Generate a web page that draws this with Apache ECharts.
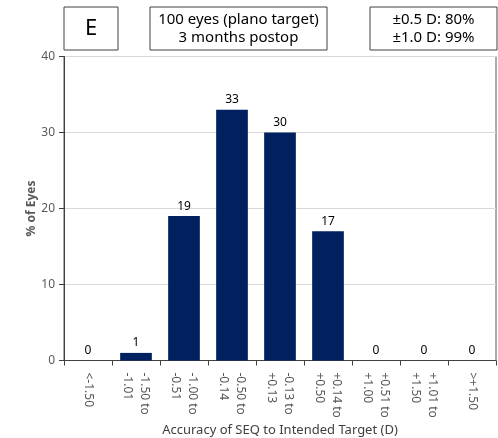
<!DOCTYPE html>
<html><head><meta charset="utf-8">
<script src="https://cdn.jsdelivr.net/npm/echarts@6/dist/echarts.min.js"></script>
<style>html,body{margin:0;padding:0;background:#fff}#c{width:498px;height:438px}</style>
</head><body><div id="c"></div>
<script>
const categories = ['<-1.50', '-1.50 to\n-1.01', '-1.00 to\n-0.51', '-0.50 to\n-0.14', '-0.13 to\n+0.13', '+0.14 to\n+0.50', '+0.51 to\n+1.00', '+1.01 to\n+1.50', '>+1.50'];
const percentEyes = [0, 1, 19, 33, 30, 17, 0, 0, 0];
const yTicks = [0, 10, 20, 30, 40];
const panelLabel = 'E';
const infoText = '100 eyes (plano target)\n3 months postop';
const statsText = '±0.5 D: 80%\n±1.0 D: 99%';

const FONT = '"Noto Sans", sans-serif';
const chart = echarts.init(document.getElementById('c'), null, {renderer: 'canvas'});
function box(x, y, w, h, text, size) {
  return {
    type: 'group', left: x, top: y, children: [
      {type: 'rect', shape: {x: 0, y: 0, width: w, height: h}, style: {fill: '#fff', stroke: '#404040', lineWidth: 1}},
      {type: 'text', x: w / 2, y: h / 2, style: {text: text, fill: '#000', font: size + 'px ' + FONT, align: 'center', verticalAlign: 'middle', lineHeight: size + 3}}
    ]
  };
}
chart.setOption({
  animation: false,
  grid: {left: 64, right: 2, top: 56.5, bottom: 77.5, show: true, borderColor: '#595959', borderWidth: 1, containLabel: false, outerBoundsMode: 'none'},
  xAxis: {
    type: 'category', data: categories,
    axisLine: {lineStyle: {color: '#404040', width: 1}},
    axisTick: {show: true, length: 5, alignWithLabel: false, lineStyle: {color: '#404040'}},
    axisLabel: {rotate: -90, color: '#595959', fontSize: 12, fontFamily: FONT, margin: 12, lineHeight: 17, interval: 0, align: 'left', verticalAlign: 'middle'},
    name: 'Accuracy of SEQ to Intended Target (D)', nameLocation: 'middle', nameGap: 63, nameMoveOverlap: false,
    nameTextStyle: {color: '#404040', fontSize: 13, fontFamily: FONT}
  },
  yAxis: {
    type: 'value', min: yTicks[0], max: yTicks[yTicks.length - 1], interval: 10,
    axisLine: {show: true, lineStyle: {color: '#404040', width: 1}},
    axisTick: {show: true, length: 5, lineStyle: {color: '#404040'}},
    axisLabel: {color: '#595959', fontSize: 12, fontFamily: FONT, margin: 9},
    splitLine: {show: true, lineStyle: {color: '#d9d9d9', width: 1}},
    name: '% of Eyes', nameLocation: 'middle', nameGap: 26, nameMoveOverlap: false,
    nameTextStyle: {color: '#595959', fontSize: 12, fontWeight: 'bold', fontFamily: FONT}
  },
  series: [{
    type: 'bar', data: percentEyes, barWidth: '66%',
    itemStyle: {color: '#002060'},
    label: {show: true, position: 'top', color: '#000', fontSize: 12, fontFamily: FONT, distance: 4}
  }],
  graphic: [
    box(63.5, 6.5, 54, 43, panelLabel, 22),
    box(149.5, 6.5, 177, 43, infoText, 15),
    box(369.5, 6.5, 127, 43, statsText, 15)
  ]
});
</script></body></html>
